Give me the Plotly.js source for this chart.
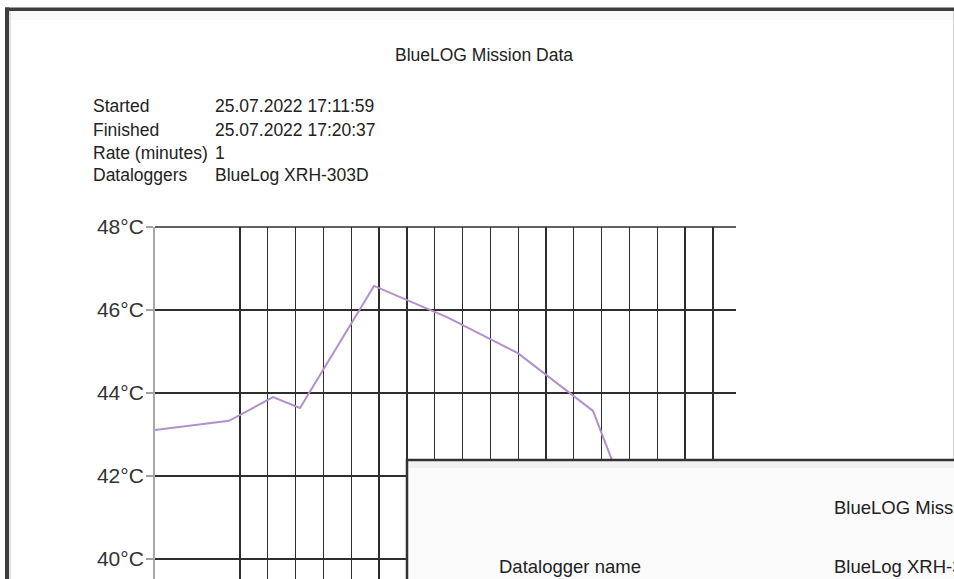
<!DOCTYPE html>
<html>
<head>
<meta charset="utf-8">
<script src="https://cdn.plot.ly/plotly-3.0.1.min.js"></script>
<style>
html,body{margin:0;padding:0;background:#fff;}
#chart{width:954px;height:579px;}
</style>
</head>
<body>
<div id="chart"></div>
<script>
// ---- data ----
const chartTitle = "BlueLOG Mission Data";
const infoLabels = ["Started", "Finished", "Rate (minutes)", "Dataloggers"];
const infoValues = ["25.07.2022 17:11:59", "25.07.2022 17:20:37", "1", "BlueLog XRH-303D"];
// x positions in grid units (one unit = one vertical grid line step)
const readingX = [-0.054, 2.606, 4.188, 5.158, 7.818, 10.44, 12.99, 15.69, 18.35];
const temperatureC = [43.11, 43.33, 43.90, 43.64, 46.58, 45.83, 44.96, 43.57, 38.94];
const gridLineX = [3, 4, 5, 6, 7, 8, 9, 10, 11, 12, 13, 14, 15, 16, 17, 18, 19, 20];
const tempTicks = [40, 42, 44, 46, 48];
const overlayTitle = "BlueLOG Mission Data";
const overlayRowLabel = "Datalogger name";
const overlayRowValue = "BlueLog XRH-303D";

// ---- helpers (pixel -> paper) ----
const W = 954, H = 579;
const px = x => x / W;
const py = y => 1 - y / H;
const FONT = "Liberation Sans, Arial, Helvetica, sans-serif";
const X_RANGE = [-0.054, 20.83];
const Y_RANGE = [39.518, 48];
const Y_DOMAIN_TOP = 1 - 227 / H;
const GRID = "#2e2e2e";

const trace = {
  x: readingX,
  y: temperatureC,
  type: "scatter",
  mode: "lines",
  line: {color: "#b28fcd", width: 2},
  hoverinfo: "skip",
  showlegend: false
};

const annotations = [];
annotations.push({
  text: chartTitle, xref: "paper", yref: "paper",
  x: px(484), y: py(54.5), xanchor: "center", yanchor: "middle",
  showarrow: false, font: {family: FONT, size: 17.5, color: "#222"}
});
const rowY = [106.5, 130, 153, 175.5];
infoLabels.forEach((lab, i) => {
  annotations.push({
    text: lab, xref: "paper", yref: "paper",
    x: px(91), y: py(rowY[i]), xanchor: "left", yanchor: "middle",
    showarrow: false, font: {family: FONT, size: 17.5, color: "#222"}
  });
  annotations.push({
    text: infoValues[i], xref: "paper", yref: "paper",
    x: px(213), y: py(rowY[i]), xanchor: "left", yanchor: "middle",
    showarrow: false, font: {family: FONT, size: 17.5, color: "#222"}
  });
});
// overlay window texts (window runs past the right edge of the view)
annotations.push({
  text: overlayTitle, xref: "paper", yref: "paper",
  x: px(832), y: py(507), xanchor: "left", yanchor: "middle",
  showarrow: false, font: {family: FONT, size: 18.5, color: "#222"}
});
annotations.push({
  text: overlayRowLabel, xref: "paper", yref: "paper",
  x: px(497), y: py(566), xanchor: "left", yanchor: "middle",
  showarrow: false, font: {family: FONT, size: 18.5, color: "#222"}
});
annotations.push({
  text: overlayRowValue, xref: "paper", yref: "paper",
  x: px(832), y: py(566), xanchor: "left", yanchor: "middle",
  showarrow: false, font: {family: FONT, size: 18.5, color: "#222"}
});

const shapes = [
  // top grid line along the upper edge of the plot (Plotly drops grid lines on the range edge)
  {type: "line", xref: "x", yref: "paper", x0: X_RANGE[0], x1: X_RANGE[1],
   y0: Y_DOMAIN_TOP, y1: Y_DOMAIN_TOP,
   line: {color: GRID, width: 1.4}, layer: "below"},
  // page frame: top and left dark bars
  {type: "rect", xref: "paper", yref: "paper", x0: px(5), x1: 1.01, y0: py(11), y1: py(7.5),
   fillcolor: "#3b3d40", line: {width: 0}, layer: "above"},
  {type: "rect", xref: "paper", yref: "paper", x0: px(5), x1: px(9), y0: -0.01, y1: py(7.5),
   fillcolor: "#3b3d40", line: {width: 0}, layer: "above"},
  // subtle shadow below top bar
  {type: "rect", xref: "paper", yref: "paper", x0: px(9), x1: 1.01, y0: py(20), y1: py(11),
   fillcolor: "rgba(0,0,0,0.025)", line: {width: 0}, layer: "above"},
  {type: "line", xref: "paper", yref: "paper", x0: px(10), x1: px(10), y0: -0.01, y1: py(11),
   line: {color: "#c8c8c8", width: 1}, layer: "above"},
  // right thin edge
  {type: "line", xref: "paper", yref: "paper", x0: px(953.5), x1: px(953.5), y0: py(460), y1: py(11),
   line: {color: "#d0d0d0", width: 1}, layer: "above"},
  // overlay window
  {type: "rect", xref: "paper", yref: "paper", x0: px(407), x1: 1.02, y0: -0.02, y1: py(460),
   fillcolor: "#fbfbfb", line: {color: "#333", width: 2.5}, layer: "above"},
  {type: "rect", xref: "paper", yref: "paper", x0: px(408.5), x1: 1.02, y0: py(468), y1: py(461.5),
   fillcolor: "rgba(0,0,0,0.035)", line: {width: 0}, layer: "above"}
];

const layout = {
  width: W, height: H,
  margin: {l: 0, r: 0, t: 0, b: 0, pad: 0},
  paper_bgcolor: "#ffffff",
  plot_bgcolor: "#ffffff",
  showlegend: false,
  xaxis: {
    domain: [px(155), px(736)],
    range: X_RANGE,
    tickmode: "array",
    tickvals: gridLineX,
    showticklabels: false,
    ticks: "",
    showgrid: true,
    gridcolor: GRID,
    gridwidth: 1.3,
    zeroline: false,
    showline: false,
    fixedrange: true
  },
  yaxis: {
    domain: [0, Y_DOMAIN_TOP],
    range: Y_RANGE,
    tickmode: "array",
    tickvals: tempTicks,
    ticktext: tempTicks.map(v => v + "°C"),
    ticks: "outside",
    ticklen: 7,
    tickwidth: 1.5,
    tickcolor: "#a0a0a0",
    ticklabelstandoff: -2,
    showline: true,
    linecolor: "#a8a8a8",
    linewidth: 2,
    showgrid: true,
    gridcolor: GRID,
    gridwidth: 1.3,
    zeroline: false,
    tickfont: {family: FONT, size: 21, color: "#333"},
    fixedrange: true
  },
  annotations: annotations,
  shapes: shapes
};

Plotly.newPlot("chart", [trace], layout, {staticPlot: true, displayModeBar: false});
</script>
</body>
</html>
